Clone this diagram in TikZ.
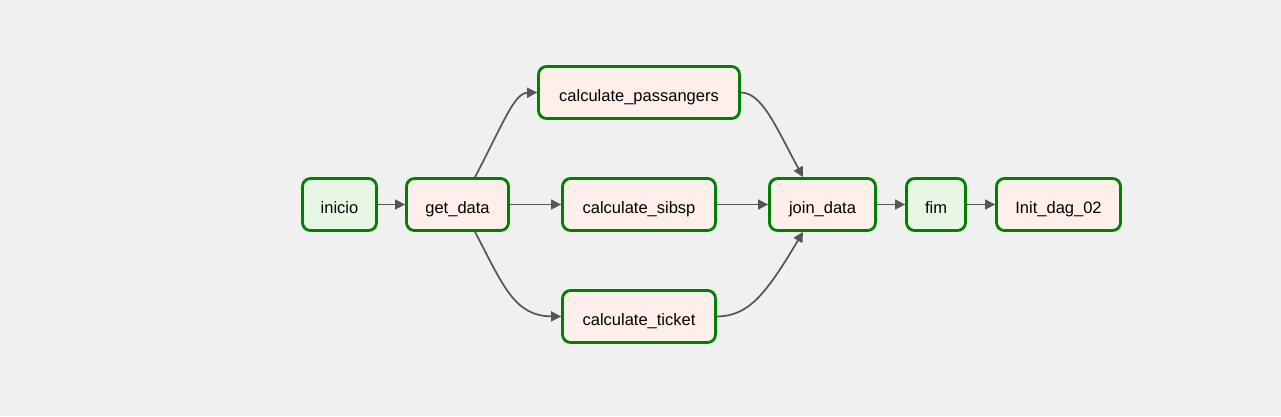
\documentclass[tikz,border=0pt]{standalone}
\usepackage{fontspec}
\setmainfont{Liberation Sans}
\usetikzlibrary{arrows.meta}
\definecolor{bgc}{HTML}{F0F0F0}
\definecolor{pyfill}{HTML}{FFEFEB}
\definecolor{emfill}{HTML}{E8F7E4}
\definecolor{brd}{HTML}{008000}
\definecolor{edgec}{HTML}{555555}
\begin{document}
\begin{tikzpicture}[x=1pt,y=-1pt,
  task/.style={draw=brd, line width=2.8pt, rounded corners=8pt, minimum height=52pt, inner sep=0pt, text height=19pt, text depth=2pt, font=\fontsize{16.5}{19}\selectfont, text=black},
  pytask/.style={task, fill=pyfill},
  emtask/.style={task, fill=emfill},
  conn/.style={draw=edgec, line width=1.7pt, -{Triangle[length=10pt,width=10pt]}}]
\fill[bgc] (0,0) rectangle (1281,416);
\useasboundingbox (0,0) rectangle (1281,416);
\node[emtask, minimum width=74pt] (ini) at (339.5,204.5) {inicio};
\node[pytask, minimum width=102pt] (get) at (457.5,204.5) {get\_data};
\node[pytask, minimum width=201pt] (pas) at (639,92.5) {calculate\_passangers};
\node[pytask, minimum width=153pt] (sib) at (639,204.5) {calculate\_sibsp};
\node[pytask, minimum width=153pt] (tic) at (639,316.5) {calculate\_ticket};
\node[pytask, minimum width=106pt] (join) at (822.5,204.5) {join\_data};
\node[emtask, minimum width=59pt] (fim) at (936,204.5) {fim};
\node[pytask, minimum width=124pt] (init) at (1058.5,204.5) {Init\_dag\_02};
\coordinate (gt) at ([xshift=17.5pt]get.north);
\coordinate (gb) at ([xshift=17.5pt]get.south);
\coordinate (jt) at ([xshift=-19.5pt]join.north);
\coordinate (jb) at ([xshift=-19.5pt]join.south);
\draw[conn] (ini) -- (get);
\draw[conn] (get) -- (sib);
\draw[conn] (sib) -- (join);
\draw[conn] (join) -- (fim);
\draw[conn] (fim) -- (init);
\draw[conn] (gt) .. controls (503,124) and (514,93) .. (pas.west);
\draw[conn] (gb) .. controls (503,285) and (514,316) .. (tic.west);
\draw[conn] (pas.east) .. controls (762,93) and (775,125) .. (jt);
\draw[conn] (tic.east) .. controls (748,316) and (765,296) .. (jb);
\end{tikzpicture}
\end{document}
